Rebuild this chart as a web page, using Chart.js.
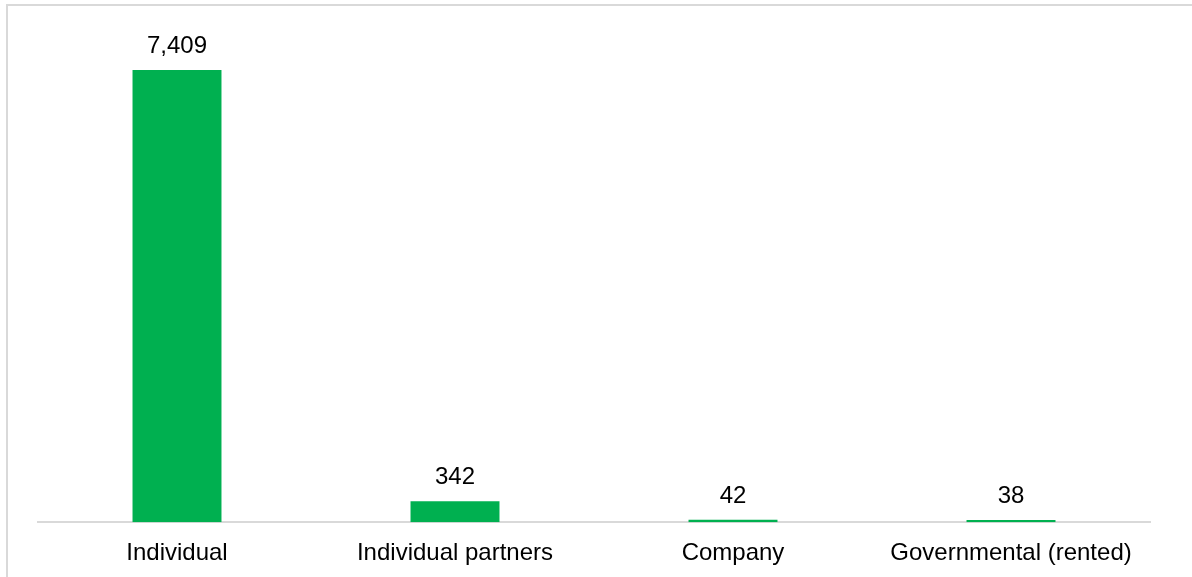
<!DOCTYPE html>
<html lang="en">
<head>
    <meta charset="UTF-8">
    <title>Establishments by type of ownership</title>
    <script src="https://cdn.jsdelivr.net/npm/chart.js"></script>
    <style>
        html, body { margin: 0; padding: 0; background: #fff; overflow: hidden; }
        #frame {
            position: absolute; left: 6px; top: 4px;
            width: 1220px; height: 620px;
            border: 2px solid #d9d9d9;
        }
        #wrap { position: absolute; left: 0; top: 0; width: 1192px; height: 590px; }
    </style>
</head>
<body>
    <div id="frame"></div>
    <div id="wrap"><canvas id="ownerChart"></canvas></div>

    <script>
        const categories = ['Individual', 'Individual partners', 'Company', 'Governmental (rented)'];
        const counts = [7409, 342, 42, 38];

        const FONT = '"Liberation Sans", Arial, sans-serif';

        // value labels drawn above each bar
        const barValueLabels = {
            id: 'barValueLabels',
            afterDatasetsDraw(chart) {
                const ctx = chart.ctx;
                const meta = chart.getDatasetMeta(0);
                ctx.save();
                ctx.font = '24px ' + FONT;
                ctx.fillStyle = '#000';
                ctx.textAlign = 'center';
                ctx.textBaseline = 'alphabetic';
                meta.data.forEach((bar, i) => {
                    ctx.fillText(counts[i].toLocaleString('en-US'), bar.x, bar.y - 17);
                });
                ctx.restore();
            }
        };

        const ctx = document.getElementById('ownerChart').getContext('2d');
        new Chart(ctx, {
            type: 'bar',
            data: {
                labels: categories,
                datasets: [{
                    data: counts,
                    backgroundColor: '#00b050',
                    borderWidth: 0,
                    categoryPercentage: 1,
                    barPercentage: 0.32
                }]
            },
            options: {
                responsive: true,
                maintainAspectRatio: false,
                animation: false,
                layout: { padding: { left: 38, right: 42, top: 34, bottom: 5 } },
                plugins: { legend: { display: false }, tooltip: { enabled: false } },
                scales: {
                    x: {
                        grid: { display: false, drawTicks: false },
                        border: { display: true, color: '#d9d9d9', width: 2 },
                        ticks: {
                            padding: 17,
                            color: '#000',
                            font: { family: FONT, size: 24 }
                        }
                    },
                    y: {
                        display: false,
                        min: 0,
                        max: 8000
                    }
                }
            },
            plugins: [barValueLabels]
        });
    </script>
</body>
</html>
